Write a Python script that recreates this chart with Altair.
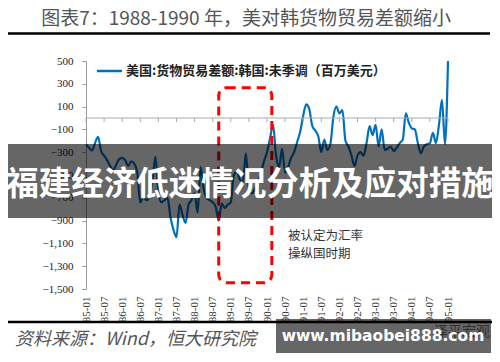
import altair as alt
import pandas as pd

# monthly US goods trade balance with Korea, 1985-01 .. 1995-01 (million USD)
values = [
    -230, -260, -285, -220, -165, -290, -330, -370, -420, -460, -410, -360,
    -350, -370, -420, -380, -400, -480, -740, -690, -720, -700, -560, -340,
    -650, -740, -720, -700, -870, -980, -1045, -760, -850, -920, -760, -720,
    -660, -830, -430, -620, -700, -720, -740, -780, -900, -750, -790, -760,
    -740, -500, -470, -540, -560, -310, -630, -660, -620, -560, -480, -380,
    -300, -180, -60, -330, -430, -270, -480, -430, -350, -300, -210, -120,
    20, 120, 80, -70, -110, -160, -300, -190, -280, -230, 10, 100,
    40, 70, -200, -250, -330, -420, -330, -300, -330, -220, -70, -150,
    -60, -250, -100, -280, -270, -250, -290, -260, -220, -190, 40, -40,
    -90, -100, -220, -310, -250, -230, -220, -130, -220, -60, 160, -230,
    500,
]
months = [f"{1985 + i // 12}-{i % 12 + 1:02d}" for i in range(len(values))]
tick_idx = list(range(0, 121, 6))
y_ticks = list(range(-1500, 501, 200))

title_text = "图表7：1988-1990 年，美对韩货物贸易差额缩小"
legend_text = "美国:货物贸易差额:韩国:未季调（百万美元）"
note_lines = ["被认定为汇率", "操纵国时期"]
source_text = "资料来源：Wind，恒大研究院"
banner_text = "福建经济低迷情况分析及应对措施"
wm_text = "www.mibaobei888.com"
box = {"x": 44, "x2": 61.6, "y": 266, "y2": -1445}

df = pd.DataFrame({"idx": list(range(len(values))), "month": months, "value": values})
ticks_df = pd.DataFrame({"idx": tick_idx})
box_df = pd.DataFrame([box])
one = pd.DataFrame({"a": [0]})

BLUE = "#0070C0"
SERIF = "Liberation Serif"
CJK = "Noto Sans CJK SC"

xscale = alt.Scale(domain=[0, 120], nice=False)
yscale = alt.Scale(domain=[-1500, 500], nice=False)
xaxis = alt.Axis(
    values=tick_idx, domain=False, ticks=False, grid=False, title=None,
    labelAngle=-90, labelFont=SERIF, labelFontSize=11, labelColor="#333",
    labelPadding=7, labelOverlap=False,
    labelExpr="toString(85 + floor(datum.value / 12)) + (datum.value % 12 == 0 ? '-01' : '-07')")
yaxis = alt.Axis(
    values=y_ticks, grid=False, title=None,
    domainColor="#999", tickColor="#999", tickSize=4, labelFont=SERIF,
    labelFontSize=11, labelColor="#222", labelPadding=9, labelOverlap=False,
    labelExpr="format(datum.value, ',.0f')")

line = alt.Chart(df).mark_line(color=BLUE, strokeWidth=2.2, interpolate="monotone").encode(
    x=alt.X("idx:Q", scale=xscale, axis=xaxis),
    y=alt.Y("value:Q", scale=yscale, axis=yaxis),
)

zero = alt.Chart(one).mark_rule(color="#aaa", strokeWidth=1).encode(
    x=alt.X(datum=0, type="quantitative", scale=xscale, axis=xaxis), x2=alt.X2(datum=120),
    y=alt.Y(datum=0, type="quantitative", scale=yscale, axis=yaxis))

xticks = alt.Chart(ticks_df).mark_rule(color="#aaa", strokeWidth=1).encode(
    x=alt.X("idx:Q", scale=xscale, axis=xaxis),
    y=alt.Y(datum=0, type="quantitative", scale=yscale, axis=yaxis), y2=alt.Y2(datum=-35))

redbox = alt.Chart(box_df).mark_rect(
    fillOpacity=0, stroke="#FF0000", strokeWidth=3, strokeDash=[9, 6], cornerRadius=8
).encode(x=alt.X("x:Q", scale=xscale, axis=xaxis), x2="x2:Q",
         y=alt.Y("y:Q", scale=yscale, axis=yaxis), y2="y2:Q")

def txt(text, x, y, **kw):
    return alt.Chart(one).mark_text(text=text, **kw).encode(x=alt.value(x), y=alt.value(y))

def hrule(x1, x2, y, **kw):
    return alt.Chart(one).mark_rule(**kw).encode(x=alt.value(x1), x2=alt.value(x2), y=alt.value(y))

def box_px(x1, x2, y1, y2, **kw):
    return alt.Chart(one).mark_rect(**kw).encode(
        x=alt.value(x1), x2=alt.value(x2), y=alt.value(y1), y2=alt.value(y2))

title = txt(title_text, 160, -42, font=CJK, fontSize=19, color="#555", align="center", baseline="middle")
title_rule = hrule(-84, 404, -27.5, color="black", strokeWidth=2.5)
leg_line = hrule(11, 36, 10, color=BLUE, strokeWidth=2.5)
leg_text = txt(legend_text, 40, 10, font=CJK, fontSize=13, fontWeight="bold", color="#222",
               align="left", baseline="middle")
note1 = txt(note_lines[0], 202, 175, font=CJK, fontSize=12.5, color="#333", align="left", baseline="middle")
note2 = txt(note_lines[1], 202, 193, font=CJK, fontSize=12.5, color="#333", align="left", baseline="middle")
bottom_rule = hrule(-84, 409, 261, color="black", strokeWidth=2.5)
source = txt(source_text, -71, 279, font=CJK, fontSize=18, fontStyle="italic", color="#555",
             align="left", baseline="middle")
zeping = txt("泽平宏观", 404, 271, font=CJK, fontSize=14, color="#777", align="right", baseline="middle")
banner = box_px(-84, 412, 83, 157, color="black", opacity=0.6)
banner_t = txt(banner_text, 164, 124, font=CJK, fontSize=32.5, fontWeight="bold", color="white",
               align="center", baseline="middle")
wm = box_px(190, 405, 258, 292, color="black", opacity=0.6)
wm_t = txt(wm_text, 297, 275, font="DejaVu Sans", fontSize=15.5, fontWeight="bold", color="white",
           align="center", baseline="middle")

chart = alt.layer(
    line, zero, xticks, redbox, leg_line, leg_text, note1, note2,
    title, title_rule, bottom_rule, source, zeping, banner, banner_t, wm, wm_t,
).properties(
    width=362, height=228, autosize="none",
    padding={"left": 78, "top": 53, "right": 44, "bottom": 65},
    background="white",
).configure_view(stroke=None)

chart.save("out.html", embed_options={"renderer": "svg", "actions": False})
